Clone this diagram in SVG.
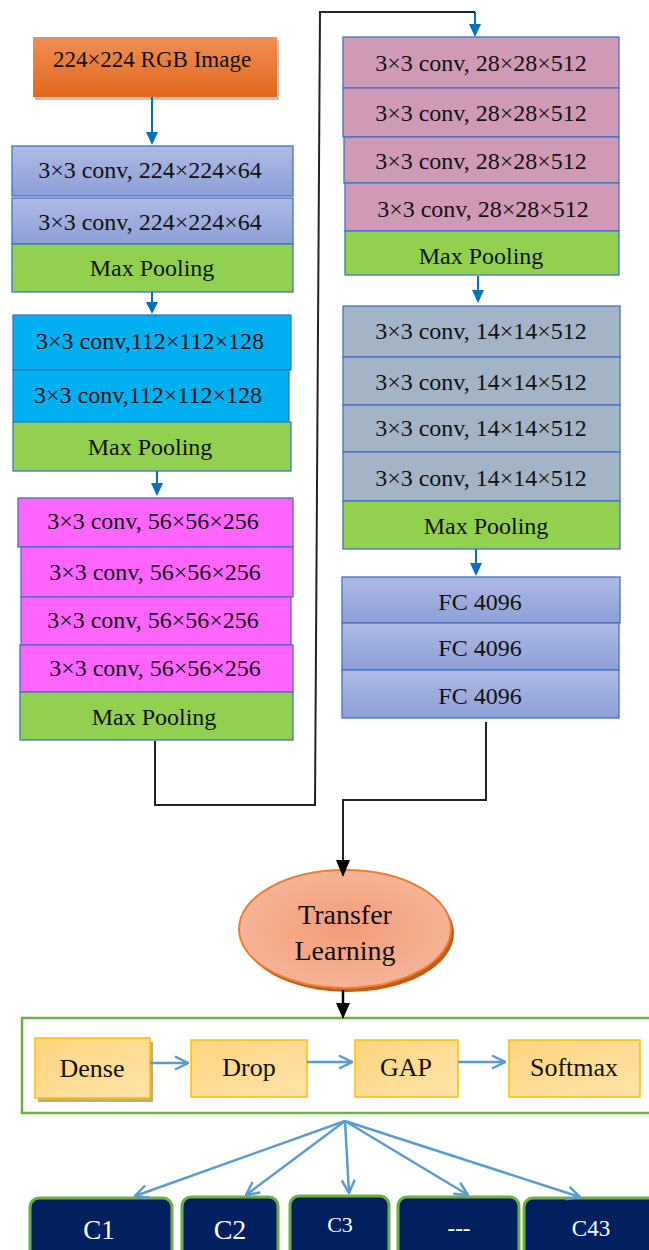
<svg xmlns="http://www.w3.org/2000/svg" width="649" height="1250" viewBox="0 0 649 1250">
  <defs>
    <linearGradient id="gOrange" x1="0" y1="0" x2="0" y2="1">
      <stop offset="0" stop-color="#F08E55"/>
      <stop offset="1" stop-color="#E2691C"/>
    </linearGradient>
    <linearGradient id="gLav" x1="0" y1="0" x2="0" y2="1">
      <stop offset="0" stop-color="#AEBBE4"/>
      <stop offset="1" stop-color="#8C9FD6"/>
    </linearGradient>
    <linearGradient id="gYel" x1="0" y1="0" x2="1" y2="1">
      <stop offset="0" stop-color="#FFD57F"/>
      <stop offset="1" stop-color="#FFE3A8"/>
    </linearGradient>
    <radialGradient id="gSalmon" cx="0.5" cy="0.5" r="0.6">
      <stop offset="0" stop-color="#F39C78"/>
      <stop offset="1" stop-color="#F6B79C"/>
    </radialGradient>
    <marker id="openBlue" viewBox="0 0 16 16" refX="15" refY="8" markerWidth="16" markerHeight="16" markerUnits="userSpaceOnUse" orient="auto">
      <path d="M2,1.5 L15,8 L2,14.5" fill="none" stroke="#5B9BD5" stroke-width="2.5"/>
    </marker>
  </defs>
  <style>
    .lbl { font-family: "Liberation Serif", "Times New Roman", serif; font-size: 23px; fill: #111; text-anchor: middle; }
    .big { font-size: 24px; }
    .tl { font-size: 28px; }
    .hd { font-size: 26px; }
    .blk { stroke: #4472C4; stroke-width: 1.3; }
    .pool { fill: #92D050; }
    .lav { fill: url(#gLav); }
    .cyan { fill: #00B0F0; }
    .mag { fill: #FF66FF; }
    .pink { fill: #CF9AB5; }
    .slate { fill: #A3B4C7; }
    .flowB { stroke: #0070C0; stroke-width: 2; fill: none; }
    .headB { fill: #0070C0; }
    .wire { stroke: #222; stroke-width: 2; fill: none; }
    .ybox { fill: url(#gYel); stroke: #FFC000; stroke-width: 1.5; }
    .cls { fill: #002060; stroke: #70AD47; stroke-width: 3; }
    .wt { fill: #fff; }
    .fan { stroke: #5B9BD5; stroke-width: 2.5; fill: none; marker-end: url(#openBlue); }
  </style>

  <!-- input image -->
  <g id="input">
    <rect x="35" y="40" width="244" height="60" fill="#999" opacity="0.6"/>
    <rect x="33" y="37" width="244" height="60" fill="url(#gOrange)"/>
    <text class="lbl" x="152" y="67">224×224 RGB Image</text>
  </g>

  <!-- block 1 -->
  <g id="block1">
    <rect class="blk lav" x="12" y="146" width="281" height="50"/>
    <text class="lbl big" x="150" y="178">3×3 conv, 224×224×64</text>
    <rect class="blk lav" x="12" y="198" width="281" height="46"/>
    <text class="lbl big" x="150" y="230">3×3 conv, 224×224×64</text>
    <rect class="blk pool" x="12" y="244" width="281" height="48"/>
    <text class="lbl big" x="152" y="276">Max Pooling</text>
  </g>

  <!-- block 2 -->
  <g id="block2">
    <rect class="blk cyan" x="13" y="315" width="278" height="55"/>
    <text class="lbl big" x="150" y="349">3×3 conv,112×112×128</text>
    <rect class="blk cyan" x="13" y="370" width="276" height="52"/>
    <text class="lbl big" x="148" y="403">3×3 conv,112×112×128</text>
    <rect class="blk pool" x="13" y="422" width="278" height="49"/>
    <text class="lbl big" x="150" y="455">Max Pooling</text>
  </g>

  <!-- block 3 -->
  <g id="block3">
    <rect class="blk mag" x="18" y="498" width="275" height="49"/>
    <text class="lbl big" x="153" y="529">3×3 conv, 56×56×256</text>
    <rect class="blk mag" x="21" y="547" width="272" height="50"/>
    <text class="lbl big" x="155" y="580">3×3 conv, 56×56×256</text>
    <rect class="blk mag" x="21" y="597" width="270" height="48"/>
    <text class="lbl big" x="153" y="628">3×3 conv, 56×56×256</text>
    <rect class="blk mag" x="20" y="645" width="273" height="47"/>
    <text class="lbl big" x="155" y="676">3×3 conv, 56×56×256</text>
    <rect class="blk pool" x="20" y="692" width="273" height="48"/>
    <text class="lbl big" x="154" y="725">Max Pooling</text>
  </g>

  <!-- block 4 -->
  <g id="block4">
    <rect class="blk pink" x="343" y="37" width="276" height="51"/>
    <text class="lbl big" x="481" y="71">3×3 conv, 28×28×512</text>
    <rect class="blk pink" x="343" y="88" width="276" height="49"/>
    <text class="lbl big" x="481" y="121">3×3 conv, 28×28×512</text>
    <rect class="blk pink" x="344" y="137" width="275" height="46"/>
    <text class="lbl big" x="481" y="169">3×3 conv, 28×28×512</text>
    <rect class="blk pink" x="345" y="183" width="274" height="48"/>
    <text class="lbl big" x="483" y="217">3×3 conv, 28×28×512</text>
    <rect class="blk pool" x="345" y="231" width="274" height="44"/>
    <text class="lbl big" x="481" y="264">Max Pooling</text>
  </g>

  <!-- block 5 -->
  <g id="block5">
    <rect class="blk slate" x="343" y="306" width="277" height="51"/>
    <text class="lbl big" x="481" y="339">3×3 conv, 14×14×512</text>
    <rect class="blk slate" x="343" y="357" width="277" height="48"/>
    <text class="lbl big" x="481" y="390">3×3 conv, 14×14×512</text>
    <rect class="blk slate" x="343" y="405" width="277" height="47"/>
    <text class="lbl big" x="481" y="436">3×3 conv, 14×14×512</text>
    <rect class="blk slate" x="343" y="452" width="277" height="49"/>
    <text class="lbl big" x="481" y="486">3×3 conv, 14×14×512</text>
    <rect class="blk pool" x="343" y="501" width="277" height="48"/>
    <text class="lbl big" x="486" y="534">Max Pooling</text>
  </g>

  <!-- fully connected -->
  <g id="fc">
    <rect class="blk lav" x="342" y="577" width="278" height="46"/>
    <text class="lbl big" x="480" y="610">FC 4096</text>
    <rect class="blk lav" x="342" y="623" width="277" height="47"/>
    <text class="lbl big" x="480" y="656">FC 4096</text>
    <rect class="blk lav" x="342" y="670" width="277" height="48"/>
    <text class="lbl big" x="480" y="704">FC 4096</text>
  </g>

  <!-- transfer learning -->
  <g id="transfer">
    <ellipse cx="348" cy="933" rx="106" ry="59" fill="#C55A11"/>
    <ellipse cx="345" cy="929" rx="106" ry="59" fill="url(#gSalmon)" stroke="#ED7D31" stroke-width="2"/>
    <text class="lbl tl" x="345" y="924">Transfer</text>
    <text class="lbl tl" x="345" y="960">Learning</text>
  </g>

  <!-- classifier head -->
  <g id="head">
    <rect x="22" y="1018" width="640" height="95" fill="#fff" stroke="#70AD47" stroke-width="2.5"/>
  </g>
  <g id="dense">
    <rect x="38" y="1042" width="115" height="60" fill="#C0AE7A"/>
    <rect class="ybox" x="35" y="1038" width="115" height="60"/>
    <text class="lbl hd" x="92" y="1077">Dense</text>
  </g>
  <g id="drop">
    <rect class="ybox" x="191" y="1040" width="116" height="57"/>
    <text class="lbl hd" x="249" y="1076">Drop</text>
  </g>
  <g id="gap">
    <rect class="ybox" x="355" y="1040" width="103" height="57"/>
    <text class="lbl hd" x="406" y="1076">GAP</text>
  </g>
  <g id="softmax">
    <rect class="ybox" x="509" y="1040" width="131" height="57"/>
    <text class="lbl hd" x="574" y="1076">Softmax</text>
  </g>

  <!-- output classes -->
  <g id="c1">
    <rect class="cls" x="30" y="1198" width="142" height="70" rx="9"/>
    <text class="lbl wt" x="99" y="1239" style="font-size:27px">C1</text>
  </g>
  <g id="c2">
    <rect class="cls" x="182" y="1197" width="96" height="70" rx="9"/>
    <text class="lbl wt" x="230" y="1239" style="font-size:28px">C2</text>
  </g>
  <g id="c3">
    <rect class="cls" x="290" y="1196" width="99" height="70" rx="9"/>
    <text class="lbl wt" x="340" y="1232" style="font-size:22px">C3</text>
  </g>
  <g id="cdots">
    <rect class="cls" x="398" y="1197" width="121" height="70" rx="9"/>
    <text class="lbl wt" x="459" y="1236" style="font-size:23px">---</text>
  </g>
  <g id="c43">
    <rect class="cls" x="524" y="1198" width="140" height="70" rx="9"/>
    <text class="lbl wt" x="591" y="1236" style="font-size:23px">C43</text>
  </g>

  <!-- connectors -->
  <g id="connectors">
    <!-- blue flow arrows between stages -->
    <line class="flowB" x1="152" y1="97" x2="152" y2="133"/>
    <path class="headB" d="M146,132 L158,132 L152,145 Z"/>
    <line class="flowB" x1="152" y1="292" x2="152" y2="303"/>
    <path class="headB" d="M146,302 L158,302 L152,314 Z"/>
    <line class="flowB" x1="157" y1="471" x2="157" y2="484"/>
    <path class="headB" d="M151,483 L163,483 L157,496 Z"/>
    <line class="flowB" x1="475" y1="12" x2="475" y2="26"/>
    <path class="headB" d="M469,24 L481,24 L475,37 Z"/>
    <line class="flowB" x1="478" y1="276" x2="478" y2="291"/>
    <path class="headB" d="M472,290 L484,290 L478,303 Z"/>
    <line class="flowB" x1="476" y1="549" x2="476" y2="564"/>
    <path class="headB" d="M470,563 L482,563 L476,576 Z"/>

    <!-- wrap from left column to right column -->
    <path class="wire" d="M155,741 L155,805 L315,805 L320,12 L475,12" stroke="#333"/>

    <!-- fully connected to transfer learning -->
    <path class="wire" d="M486,722 L486,800 L343,800 L343,862" stroke="#000" stroke-width="2.5"/>
    <path d="M336,860 L350,860 L343,877 Z" fill="#000"/>

    <!-- transfer learning to head -->
    <line x1="343" y1="990" x2="343" y2="1005" stroke="#000" stroke-width="2.5"/>
    <path d="M336,1003 L350,1003 L343,1019 Z" fill="#000"/>

    <!-- inside head -->
    <line class="fan" x1="150" y1="1063" x2="188" y2="1063"/>
    <line class="fan" x1="307" y1="1062" x2="352" y2="1062"/>
    <line class="fan" x1="458" y1="1062" x2="505" y2="1062"/>

    <!-- fan out to classes -->
    <line class="fan" x1="345" y1="1121" x2="135" y2="1196"/>
    <line class="fan" x1="345" y1="1121" x2="246" y2="1195"/>
    <line class="fan" x1="345" y1="1121" x2="349" y2="1193"/>
    <line class="fan" x1="345" y1="1121" x2="468" y2="1195"/>
    <line class="fan" x1="345" y1="1121" x2="580" y2="1197"/>
  </g>
</svg>
